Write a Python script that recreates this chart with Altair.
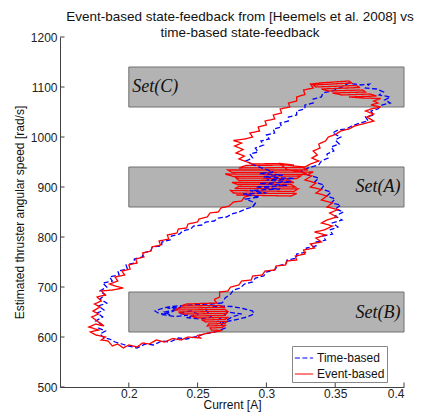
import altair as alt
import pandas as pd

title_lines = ["Event-based state-feedback from [Heemels et al. 2008] vs",
               "time-based state-feedback"]
x_title = "Current [A]"
y_title = "Estimated thruster angular speed [rad/s]"
x_ticks = [0.2, 0.25, 0.3, 0.35, 0.4]
y_ticks = [500, 600, 700, 800, 900, 1000, 1100, 1200]
x_domain = [0.15, 0.4]
y_domain = [500, 1200]

set_names = ["Set(C)", "Set(A)", "Set(B)"]
set_x0 = [0.2, 0.2, 0.2]
set_x1 = [0.4, 0.4, 0.4]
set_y0 = [1060, 860, 610]
set_y1 = [1140, 940, 690]
set_label_x = [0.2025, 0.3975, 0.3975]
set_label_y = [1101, 901, 649]
set_label_align = ["left", "right", "right"]

series_names = ["Time-based", "Event-based"]

# Event-based trajectory (red), read segment by segment
red_setB = [(0.262, 675), (0.264, 668), (0.242, 666), (0.238, 662), (0.266, 663), (0.27, 659),
            (0.236, 658), (0.234, 654), (0.27, 655), (0.272, 651), (0.236, 650), (0.24, 646),
            (0.271, 647), (0.27, 643), (0.245, 642), (0.25, 638), (0.272, 639), (0.27, 635),
            (0.253, 634), (0.256, 630), (0.271, 631), (0.27, 627), (0.258, 626), (0.257, 622),
            (0.27, 623), (0.268, 619), (0.259, 618), (0.26, 614), (0.268, 613), (0.262, 610)]
red_left = [(0.258, 608), (0.25, 603), (0.252, 598), (0.243, 600), (0.238, 594), (0.232, 597),
            (0.226, 590), (0.22, 594), (0.215, 586), (0.21, 588), (0.206, 580), (0.2, 584),
            (0.196, 578), (0.192, 586), (0.188, 582), (0.185, 592), (0.18, 594), (0.183, 600),
            (0.176, 604), (0.172, 610), (0.178, 614), (0.171, 620), (0.176, 626), (0.182, 622),
            (0.177, 632), (0.173, 640), (0.178, 646), (0.174, 652), (0.179, 660), (0.175, 666),
            (0.18, 672), (0.177, 680), (0.183, 684), (0.18, 692), (0.188, 694), (0.196, 698),
            (0.19, 702), (0.186, 706), (0.192, 712), (0.19, 720), (0.197, 724), (0.195, 732),
            (0.201, 736), (0.2, 744), (0.206, 748), (0.205, 756), (0.211, 760), (0.21, 768),
            (0.216, 772), (0.217, 780), (0.223, 784), (0.222, 792), (0.229, 796), (0.228, 804),
            (0.235, 808), (0.236, 816), (0.242, 818), (0.243, 826), (0.25, 830), (0.251, 836),
            (0.257, 840), (0.259, 848), (0.265, 850), (0.267, 858), (0.273, 862), (0.276, 870),
            (0.282, 872), (0.284, 880), (0.29, 884)]
red_setA = [(0.278, 884), (0.318, 882), (0.322, 887), (0.276, 888), (0.274, 893), (0.32, 891),
            (0.323, 896), (0.277, 897), (0.28, 901), (0.321, 900), (0.318, 905), (0.279, 905),
            (0.275, 909), (0.32, 909), (0.316, 914), (0.28, 913), (0.278, 918), (0.322, 917),
            (0.325, 922), (0.276, 921), (0.27, 926), (0.33, 925), (0.334, 930), (0.275, 929),
            (0.272, 934), (0.33, 934), (0.326, 939), (0.28, 938), (0.285, 943), (0.32, 944),
            (0.31, 947), (0.29, 946)]
red_up_left = [(0.286, 950), (0.28, 956), (0.284, 962), (0.278, 968), (0.283, 975), (0.277, 982),
               (0.282, 988), (0.276, 993), (0.284, 996), (0.29, 1000), (0.288, 1008), (0.295, 1012),
               (0.294, 1020), (0.3, 1024), (0.299, 1032), (0.306, 1036), (0.305, 1044), (0.311, 1048),
               (0.31, 1056), (0.317, 1060), (0.316, 1068), (0.322, 1072), (0.322, 1080), (0.328, 1085),
               (0.327, 1094), (0.334, 1098), (0.332, 1106), (0.34, 1108)]
red_setC = [(0.338, 1108), (0.36, 1112), (0.362, 1108), (0.334, 1104), (0.336, 1100), (0.365, 1103),
            (0.368, 1099), (0.34, 1096), (0.345, 1092), (0.37, 1094), (0.372, 1090), (0.348, 1088),
            (0.355, 1084), (0.375, 1086), (0.38, 1082), (0.36, 1080), (0.37, 1078), (0.383, 1077)]
red_up_right = [(0.378, 1072), (0.381, 1068), (0.376, 1064), (0.383, 1060), (0.376, 1056),
                (0.372, 1052), (0.378, 1046), (0.373, 1040), (0.378, 1032), (0.37, 1026), (0.364, 1022),
                (0.36, 1016), (0.354, 1012), (0.35, 1005), (0.345, 1000), (0.343, 992), (0.338, 986),
                (0.339, 978), (0.334, 972), (0.337, 964), (0.333, 958), (0.338, 952), (0.332, 946),
                (0.328, 940)]
red_down_right = [(0.32, 942), (0.31, 946), (0.315, 935), (0.325, 930), (0.333, 922), (0.328, 914),
                  (0.336, 908), (0.332, 900), (0.34, 895), (0.336, 888), (0.344, 882), (0.34, 874),
                  (0.348, 868), (0.344, 860), (0.352, 855), (0.346, 848), (0.351, 840), (0.344, 834),
                  (0.34, 828), (0.348, 822), (0.342, 814), (0.335, 810), (0.343, 804), (0.336, 798),
                  (0.34, 790), (0.332, 786), (0.335, 778), (0.327, 774), (0.328, 766), (0.321, 762),
                  (0.322, 754), (0.315, 752), (0.314, 744), (0.307, 742), (0.306, 734), (0.299, 732),
                  (0.297, 724), (0.29, 722), (0.289, 714), (0.282, 712), (0.28, 704), (0.274, 700),
                  (0.272, 692), (0.266, 690), (0.266, 680), (0.262, 675)]

# Time-based trajectory (blue)
blue_setB = [(0.268, 668), (0.26, 666), (0.25, 665), (0.24, 663), (0.23, 661), (0.224, 657),
             (0.219, 652), (0.222, 647), (0.23, 644), (0.226, 650), (0.236, 655), (0.228, 658),
             (0.238, 660), (0.232, 651), (0.224, 645), (0.234, 641), (0.243, 644), (0.236, 648),
             (0.245, 652), (0.25, 646), (0.242, 639), (0.252, 636), (0.26, 640), (0.255, 658),
             (0.265, 662), (0.275, 661), (0.283, 657), (0.29, 652), (0.291, 646), (0.286, 640),
             (0.28, 636), (0.273, 632), (0.268, 628), (0.275, 640), (0.282, 646), (0.272, 650),
             (0.265, 634), (0.268, 624), (0.27, 618), (0.265, 612)]
blue_left = [(0.255, 606), (0.248, 600), (0.242, 596), (0.236, 598), (0.23, 590), (0.224, 592),
             (0.218, 584), (0.212, 586), (0.206, 578), (0.2, 582), (0.195, 586), (0.19, 590),
             (0.186, 596), (0.182, 598), (0.179, 606), (0.183, 612), (0.178, 618), (0.18, 626),
             (0.176, 632), (0.181, 640), (0.177, 648), (0.182, 654), (0.178, 662), (0.184, 668),
             (0.179, 676), (0.183, 684), (0.179, 692), (0.184, 700), (0.181, 708), (0.188, 712),
             (0.186, 720), (0.193, 724), (0.192, 732), (0.199, 736), (0.198, 744), (0.204, 748),
             (0.204, 756), (0.21, 760), (0.21, 768), (0.216, 772), (0.217, 780), (0.224, 782),
             (0.224, 790), (0.23, 794), (0.231, 802), (0.237, 806), (0.239, 812), (0.245, 816),
             (0.247, 822), (0.253, 824), (0.256, 830), (0.262, 832), (0.265, 838), (0.271, 840),
             (0.275, 846), (0.28, 850), (0.285, 856), (0.29, 860)]
blue_setA = [(0.292, 868), (0.285, 876), (0.295, 880), (0.283, 886), (0.3, 888), (0.288, 893),
             (0.31, 896), (0.292, 900), (0.315, 903), (0.295, 907), (0.318, 910), (0.3, 914),
             (0.32, 917), (0.298, 920), (0.312, 924), (0.295, 927), (0.305, 930), (0.29, 945)]
blue_up_left = [(0.285, 952), (0.29, 958), (0.288, 966), (0.294, 970), (0.292, 978),
                (0.298, 984), (0.296, 992), (0.302, 996), (0.3, 1004), (0.306, 1008), (0.305, 1016),
                (0.311, 1020), (0.31, 1028), (0.316, 1032), (0.316, 1040), (0.322, 1044), (0.322, 1052),
                (0.328, 1056), (0.328, 1064), (0.334, 1068), (0.334, 1076), (0.34, 1080), (0.341, 1088),
                (0.348, 1092)]
blue_setC = [(0.355, 1100), (0.36, 1108), (0.368, 1104), (0.375, 1106), (0.372, 1098), (0.38, 1096),
             (0.385, 1090), (0.382, 1084), (0.39, 1080), (0.386, 1074), (0.39, 1068)]
blue_up_right = [(0.384, 1064), (0.381, 1056), (0.376, 1052), (0.378, 1044), (0.372, 1040), (0.374, 1032),
                 (0.368, 1028), (0.362, 1022), (0.358, 1016), (0.352, 1014), (0.348, 1008), (0.354, 1000),
                 (0.35, 994), (0.353, 986), (0.347, 980), (0.349, 972), (0.344, 966), (0.345, 958),
                 (0.34, 952), (0.338, 944), (0.332, 940)]
blue_down_right = [(0.325, 932), (0.33, 924), (0.338, 918), (0.335, 910), (0.342, 904), (0.34, 896),
                   (0.347, 890), (0.344, 882), (0.35, 876), (0.347, 868), (0.354, 864), (0.35, 856),
                   (0.356, 850), (0.35, 842), (0.355, 834), (0.348, 828), (0.352, 820), (0.346, 814),
                   (0.348, 806), (0.341, 802), (0.343, 794), (0.336, 790), (0.336, 782), (0.329, 778),
                   (0.329, 770), (0.322, 766), (0.322, 758), (0.315, 754), (0.314, 746), (0.308, 742),
                   (0.306, 734), (0.3, 730), (0.298, 722), (0.292, 718), (0.29, 710), (0.284, 706),
                   (0.281, 698), (0.276, 694), (0.274, 686), (0.27, 678), (0.268, 668)]

# pieces: (series, piece id, drawing layer, points)
pieces = [
    ("Time-based", 0, "under", blue_setB + blue_left + blue_setA[:1]),
    ("Time-based", 1, "over", blue_left[-1:] + blue_setA),
    ("Time-based", 2, "under", blue_setA[-1:] + blue_up_left + blue_setC + blue_up_right
     + blue_down_right),
    ("Event-based", 3, "mid", red_setB + red_left + red_setA + red_up_left + red_setC
     + red_up_right + red_down_right),
]

rows = []
for name, pid, layer, path in pieces:
    for i, (xv, yv) in enumerate(path):
        rows.append({"series": name, "piece": pid, "layer": layer, "i": i, "x": xv, "y": yv})
lines_df = pd.DataFrame(rows)

sets_df = pd.DataFrame({"name": set_names, "x": set_x0, "x1": set_x1, "y": set_y0, "y1": set_y1,
                        "lx": set_label_x, "ly": set_label_y, "align": set_label_align})

FONT = "Liberation Sans"
x_scale = alt.Scale(domain=x_domain, nice=False, zero=False)
y_scale = alt.Scale(domain=y_domain, nice=False, zero=False)
x_axis = alt.Axis(values=x_ticks, format="~g", title=x_title, ticks=False, grid=False,
                  labelPadding=1, titlePadding=0)
y_axis = alt.Axis(values=y_ticks, format="d", title=y_title, ticks=False, grid=False,
                  labelPadding=3, titlePadding=4)


def X(field):
    return alt.X(field, type="quantitative", scale=x_scale, axis=x_axis)


def Y(field):
    return alt.Y(field, type="quantitative", scale=y_scale, axis=y_axis)


rects = alt.Chart(sets_df).mark_rect(fill="#b3b3b3", stroke="#707070", strokeWidth=1).encode(
    x=X("x"), x2="x1", y=Y("y"), y2="y1")

labels_left = alt.Chart(sets_df[sets_df["align"] == "left"]).mark_text(
    font="Liberation Serif", fontStyle="italic", fontSize=18, align="left", baseline="middle",
    color="#111111").encode(x=X("lx"), y=Y("ly"), text="name")
labels_right = alt.Chart(sets_df[sets_df["align"] == "right"]).mark_text(
    font="Liberation Serif", fontStyle="italic", fontSize=18, align="right", baseline="middle",
    color="#111111").encode(x=X("lx"), y=Y("ly"), text="name")

# inward tick marks (MATLAB style)
xt_df = pd.DataFrame({"x": x_ticks, "y": [y_domain[0]] * len(x_ticks),
                      "y1": [y_domain[0] + 9] * len(x_ticks)})
yt_df = pd.DataFrame({"y": y_ticks, "x": [x_domain[0]] * len(y_ticks),
                      "x1": [x_domain[0] + 0.0033] * len(y_ticks)})
xticks = alt.Chart(xt_df).mark_rule(color="#404040", strokeWidth=1).encode(
    x=X("x"), y=Y("y"), y2="y1")
yticks = alt.Chart(yt_df).mark_rule(color="#404040", strokeWidth=1).encode(
    x=X("x"), x2="x1", y=Y("y"))

legend_kw = dict(title=None, orient="none", legendX=232, legendY=309)
color_enc = alt.Color("series:N", scale=alt.Scale(domain=series_names, range=["#0000ff", "#ff0000"]),
                      legend=alt.Legend(fillColor="white", strokeColor="#888888", padding=2,
                                        symbolType="stroke", symbolSize=330, symbolStrokeWidth=1.2,
                                        labelFont=FONT, labelFontSize=12, labelColor="#111111",
                                        rowPadding=-1, labelOffset=3, **legend_kw))
dash_enc = alt.StrokeDash("series:N", scale=alt.Scale(domain=series_names, range=[[5, 2.5], [1, 0]]),
                          legend=alt.Legend(**legend_kw))


def line_layer(layer):
    return alt.Chart(lines_df).transform_filter(alt.datum.layer == layer).mark_line(
        strokeWidth=1.3, clip=True).encode(
        x=X("x"), y=Y("y"), color=color_enc, strokeDash=dash_enc,
        order=alt.Order("i:Q"), detail="piece:N")


chart = alt.layer(rects, labels_left, labels_right, line_layer("under"), line_layer("mid"),
                  line_layer("over"), xticks, yticks).properties(
    width=344, height=350,
    title=alt.TitleParams(text=title_lines, font=FONT, fontSize=13.5, fontWeight="normal",
                          color="#111111", anchor="middle", offset=0, lineHeight=16, dy=8, dx=8),
    padding={"left": 52, "top": 29, "right": 14, "bottom": 30},
    autosize=alt.AutoSizeParams(type="none")
).configure_view(stroke=None).configure_axis(
    domainColor="#404040", labelFont=FONT, labelFontSize=12, labelColor="#222222",
    titleFont=FONT, titleFontSize=12, titleFontWeight="normal", titleColor="#111111"
)

chart.save("out.html", embed_options={"renderer": "svg", "actions": False})
